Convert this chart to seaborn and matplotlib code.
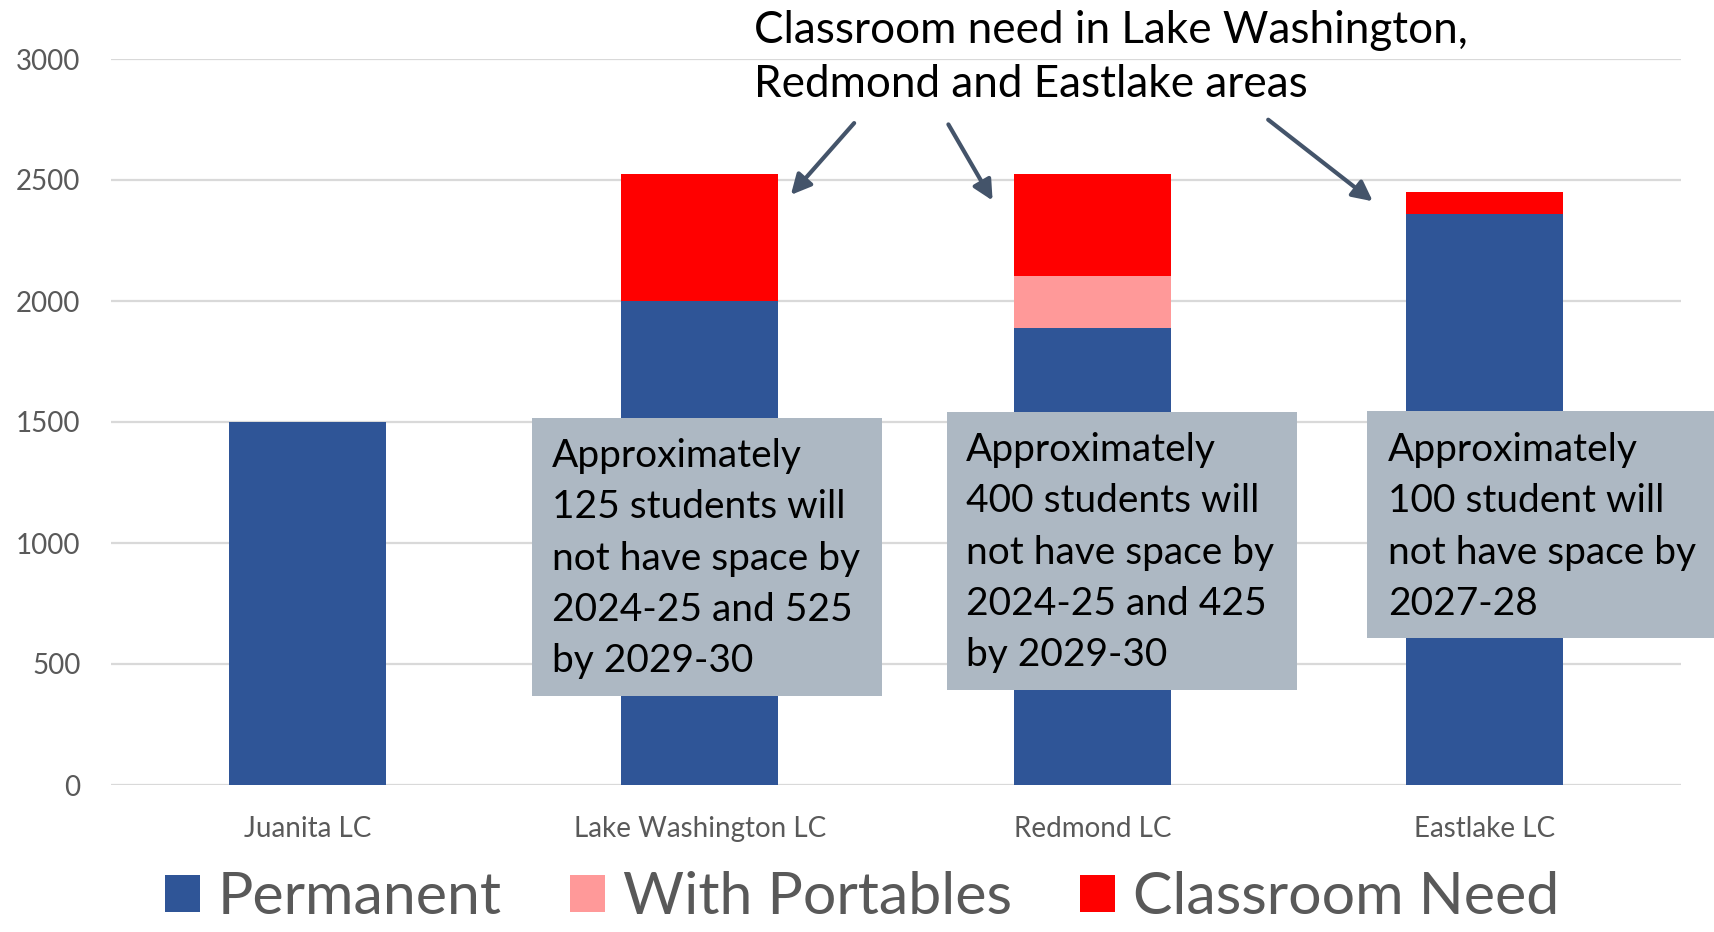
import numpy as np
import pandas as pd
import matplotlib
matplotlib.use("Agg")
import matplotlib.pyplot as plt
import seaborn as sns
from matplotlib.patches import Patch, Rectangle

# data
categories = ["Juanita LC", "Lake Washington LC", "Redmond LC", "Eastlake LC"]
permanent = [1500, 2000, 1890, 2360]
portables = [0, 0, 215, 0]
need = [0, 525, 420, 90]
yticks = [0, 500, 1000, 1500, 2000, 2500, 3000]
series_names = ["Permanent", "With Portables", "Classroom Need"]
notes = [
    "Approximately\n125 students will\nnot have space by\n2024-25 and 525\nby 2029-30",
    "Approximately\n400 students will\nnot have space by\n2024-25 and 425\nby 2029-30",
    "Approximately\n100 student will\nnot have space by\n2027-28",
]
title_text = "Classroom need in Lake Washington,\nRedmond and Eastlake areas"

c_perm = "#2F5597"
c_port = "#FF9999"
c_need = "#FF0000"
c_box = "#ADB8C3"
c_arrow = "#44546A"
c_text = "#595959"

sns.set_theme(style="white")
plt.rcParams["font.family"] = ["Lato", "DejaVu Sans"]

W, H = 1714, 932
fig = plt.figure(figsize=(W / 100, H / 100), dpi=100)


def fx(px):
    return px / W


def fy(py):
    return 1 - py / H


ax = fig.add_axes([fx(111), fy(785), fx(1681) - fx(111), fy(59) - fy(785)])

df = pd.DataFrame({"cat": categories, "perm": permanent,
                   "port": portables, "need": need})
df["with_port"] = df["perm"] + df["port"]
df["total"] = df["with_port"] + df["need"]

# stacked look: draw cumulative totals from the back to the front
sns.barplot(data=df, x="cat", y="total", color=c_need, width=0.4,
            saturation=1, ax=ax, linewidth=0)
sns.barplot(data=df, x="cat", y="with_port", color=c_port, width=0.4,
            saturation=1, ax=ax, linewidth=0)
sns.barplot(data=df, x="cat", y="perm", color=c_perm, width=0.4,
            saturation=1, ax=ax, linewidth=0)

ax.set_ylim(0, 3000)
ax.set_xlim(-0.5, 3.5)
ax.set_yticks(yticks)
ax.set_yticklabels([str(v) for v in yticks])
ax.yaxis.grid(True, color="#D9D9D9", linewidth=1.6)
ax.set_axisbelow(True)
ax.set_xlabel("")
ax.set_ylabel("")
sns.despine(ax=ax, left=True, bottom=True)
ax.tick_params(axis="both", length=0, labelsize=20, colors=c_text)
ax.tick_params(axis="y", pad=22)
ax.tick_params(axis="x", pad=22)

# grey note boxes over the bars
boxes = [(532, 418, 882, 696), (947, 412, 1297, 690), (1367, 411, 1730, 638)]
text_starts = [(552, 438), (966, 432), (1388, 432)]
for (x0, y0, x1, y1), (tx, ty), note in zip(boxes, text_starts, notes):
    fig.patches.append(Rectangle((fx(x0), fy(y1)), fx(x1) - fx(x0), fy(y0) - fy(y1),
                                 transform=fig.transFigure, facecolor=c_box,
                                 edgecolor="none", zorder=5))
    fig.text(fx(tx), fy(ty), note, ha="left", va="top", fontsize=28,
             color="black", linespacing=1.53, zorder=6)

fig.text(fx(754), fy(10), title_text, ha="left", va="top", fontsize=31.7,
         color="black", linespacing=1.4)

arrows = [((856, 121), (789, 197)), ((947, 122), (994, 203)), ((1266, 118), (1375, 203))]
for (sx, sy), (ex, ey) in arrows:
    fig.add_artist(matplotlib.patches.FancyArrowPatch(
        (fx(sx), fy(sy)), (fx(ex), fy(ey)), transform=fig.transFigure,
        arrowstyle="-|>,head_length=12,head_width=6", color=c_arrow,
        linewidth=3, mutation_scale=1, zorder=7))

handles = [Patch(facecolor=c, edgecolor="none") for c in (c_perm, c_port, c_need)]
fig.legend(handles, series_names, loc="center", bbox_to_anchor=(0.503, fy(898)),
           ncol=3, frameon=False, fontsize=42.5, labelcolor=c_text,
           handlelength=0.6, handleheight=0.6, handletextpad=0.3,
           columnspacing=1.15, borderpad=0)

fig.savefig("out.png", dpi=100)
